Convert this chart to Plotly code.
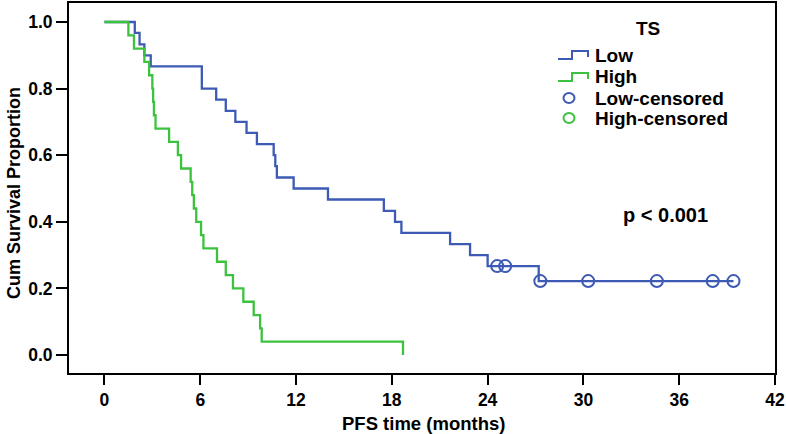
import plotly.graph_objects as go

# ---- data ----
low_times = [0, 1.9, 2.2, 2.5, 2.9, 6.1, 7.0, 7.6, 8.2, 8.9, 9.55, 10.6, 10.7, 10.8,
             11.85, 14.0, 17.5, 18.2, 18.6, 21.65, 22.9, 24.0, 27.2]
low_surv = [1.0, 0.967, 0.933, 0.9, 0.867, 0.8, 0.767, 0.733, 0.7, 0.667, 0.633, 0.6,
            0.567, 0.533, 0.5, 0.467, 0.433, 0.4, 0.367, 0.333, 0.3, 0.267, 0.222]
low_cens_times = [24.6, 25.1, 27.3, 30.3, 34.6, 38.1, 39.4]
low_cens_surv = [0.267, 0.267, 0.222, 0.222, 0.222, 0.222, 0.222]

high_times = [0, 1.5, 1.85, 2.5, 2.8, 3.0, 3.05, 3.1, 3.2, 4.05, 4.6, 4.8, 5.4, 5.5, 5.6,
              5.75, 6.05, 6.2, 7.05, 7.6, 8.05, 8.7, 9.35, 9.75, 9.85, 18.7]
high_surv = [1.0, 0.96, 0.92, 0.88, 0.84, 0.80, 0.76, 0.72, 0.68, 0.64, 0.60, 0.56, 0.52,
             0.48, 0.44, 0.40, 0.36, 0.32, 0.28, 0.24, 0.20, 0.16, 0.12, 0.08, 0.04, 0.0]

x_ticks = [0, 6, 12, 18, 24, 30, 36, 42]
y_ticks = [0.0, 0.2, 0.4, 0.6, 0.8, 1.0]
legend_title = "TS"
legend_labels = ["Low", "High", "Low-censored", "High-censored"]
p_text = "p < 0.001"
x_title = "PFS time (months)"
y_title = "Cum Survival Proportion"

BLUE = "#3d5ab5"
GREEN = "#3cc23f"
FONT = "Liberation Sans"

# extend the Low curve to its last censored time
low_line_t = low_times + [max(low_cens_times)]
low_line_s = low_surv + [low_surv[-1]]

fig = go.Figure()
fig.add_trace(go.Scatter(x=low_line_t, y=low_line_s, mode="lines",
                         line=dict(shape="hv", color=BLUE, width=2.3), showlegend=False))
fig.add_trace(go.Scatter(x=high_times, y=high_surv, mode="lines",
                         line=dict(shape="hv", color=GREEN, width=2.3), showlegend=False))
fig.add_trace(go.Scatter(x=low_cens_times, y=low_cens_surv, mode="markers",
                         marker=dict(symbol="circle-open", size=12, color=BLUE,
                                     line=dict(width=2, color=BLUE)),
                         showlegend=False))

# ---- layout geometry (pixels) ----
W, H = 786, 434
L, R, T, B = 69, 775, 3, 373


def px(x):
    return (x - L) / (R - L)


def py(y):
    return (B - y) / (B - T)


def bold(size):
    return dict(family=FONT, size=size, color="black", weight="bold")


annotations = [
    dict(text=legend_title, x=px(648), y=py(29), xref="paper", yref="paper",
         showarrow=False, xanchor="center", yanchor="middle", font=bold(19)),
    dict(text=p_text, x=px(665), y=py(215), xref="paper", yref="paper",
         showarrow=False, xanchor="center", yanchor="middle", font=bold(20)),
    dict(text=x_title, x=px(423), y=py(423), xref="paper", yref="paper",
         showarrow=False, xanchor="center", yanchor="middle", font=bold(18.5)),
    dict(text=y_title, x=px(14), y=py(193), xref="paper", yref="paper",
         showarrow=False, xanchor="center", yanchor="middle", textangle=-90,
         font=bold(18)),
]
row_y = [55, 77, 98, 118]
for lab, yy in zip(legend_labels, row_y):
    annotations.append(dict(text=lab, x=px(593), y=py(yy), xref="paper", yref="paper",
                            showarrow=False, xanchor="left", yanchor="middle",
                            font=bold(19)))

shapes = []
for col, yy in zip([BLUE, GREEN], row_y[:2]):
    pts = [(558, yy + 4), (572, yy + 4), (572, yy - 4), (588, yy - 4), (588, yy + 2)]
    path = "M " + " L ".join(f"{px(a):.5f},{py(b):.5f}" for a, b in pts)
    shapes.append(dict(type="path", path=path, xref="paper", yref="paper",
                       line=dict(color=col, width=2)))
for col, yy in zip([BLUE, GREEN], row_y[2:]):
    shapes.append(dict(type="circle", xref="paper", yref="paper",
                       x0=px(563.5), x1=px(574.5), y0=py(yy + 5), y1=py(yy - 5),
                       line=dict(color=col, width=2)))

fig.update_layout(
    width=W, height=H,
    margin=dict(l=L, r=W - R, t=T, b=H - B, autoexpand=False),
    paper_bgcolor="white", plot_bgcolor="white",
    showlegend=False,
    annotations=annotations,
    shapes=shapes,
)
fig.update_xaxes(range=[-2.22, 42], tickvals=x_ticks, ticks="outside", ticklen=10,
                 tickwidth=1.5, tickcolor="black", showline=True, linewidth=2,
                 linecolor="black", mirror=True, showgrid=False, zeroline=False,
                 tickfont=bold(17.5))
fig.update_yaxes(range=[-0.054, 1.057], tickvals=y_ticks, tickformat=".1f", ticks="outside",
                 ticklen=11, tickwidth=1.5, tickcolor="black", showline=True, linewidth=2,
                 linecolor="black", mirror=True, showgrid=False, zeroline=False,
                 tickfont=bold(17.5))

fig.write_html(
    "out.html",
    config={"displayModeBar": False},
    post_script="document.body.style.margin='0';document.body.style.overflow='hidden';",
)
